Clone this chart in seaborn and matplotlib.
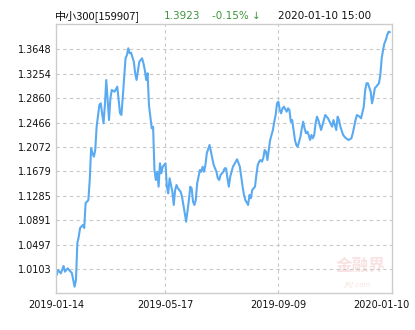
import matplotlib
matplotlib.use("Agg")
import matplotlib.pyplot as plt
from matplotlib.transforms import ScaledTranslation
import seaborn as sns
import pandas as pd

# trading-day index and NAV
day_index = [0, 1, 3, 5, 6, 8, 9, 11, 13, 14, 15, 16, 17, 19, 20, 21, 22, 23, 24, 25,
             26, 27, 28, 29, 31, 32, 34, 35, 36, 38, 39, 40, 42, 44, 45, 46, 47, 48, 50, 51,
             52, 53, 54, 56, 57, 58, 60, 62, 63, 64, 65, 66, 67, 69, 70, 71, 72, 73, 74, 75,
             76, 77, 79, 80, 81, 82, 84, 85, 86, 87, 88, 90, 91, 92, 93, 94, 96, 97, 98, 99,
             100, 101, 102, 104, 105, 106, 107, 108, 109, 111, 112, 113, 114, 116, 117, 118, 119, 121, 122, 123,
             124, 125, 126, 128, 130, 131, 133, 134, 135, 136, 137, 139, 140, 141, 142, 144, 145, 146, 147, 148,
             149, 150, 151, 152, 153, 154, 155, 157, 158, 159, 160, 161, 162, 163, 164, 165, 167, 168, 169, 170,
             171, 172, 173, 174, 175, 176, 177, 178, 179, 180, 181, 182, 183, 184, 185, 186, 187, 188, 189, 190,
             191, 192, 194, 195, 196, 197, 200, 201, 203, 204, 205, 206, 208, 210, 212, 214, 215, 217, 218, 220,
             221, 223, 224, 225, 226, 228, 229, 230, 231, 232, 234, 235, 236, 237, 238, 239, 240, 241, 242]
nav = [1.0011, 1.0091, 1.0038, 1.0156, 1.0064, 1.0119, 1.0091, 1.0043, 0.9822, 0.9930, 1.0522, 1.0628, 1.0768, 1.0817, 1.0768, 1.1171, 1.1192, 1.1219, 1.1542, 1.2052,
       1.1972, 1.1917, 1.2025, 1.2400, 1.2750, 1.2777, 1.2455, 1.2750, 1.3153, 1.2508, 1.2858, 1.2992, 1.2964, 1.3045, 1.2831, 1.2616, 1.2589, 1.2884, 1.3503, 1.3556,
       1.3664, 1.3583, 1.3593, 1.3448, 1.3261, 1.3153, 1.3448, 1.3503, 1.3422, 1.3314, 1.3153, 1.3261, 1.2750, 1.2375, 1.2400, 1.1703, 1.1542, 1.1675, 1.1434, 1.1811,
       1.1649, 1.1756, 1.1811, 1.1434, 1.1327, 1.1569, 1.1353, 1.1139, 1.1380, 1.1461, 1.1408, 1.1353, 1.1273, 1.1139, 1.1005, 1.0870, 1.1219, 1.1434, 1.1408, 1.1192,
       1.1139, 1.1219, 1.1488, 1.1703, 1.1675, 1.1756, 1.1675, 1.1783, 1.1972, 1.2106, 1.1998, 1.1891, 1.1783, 1.1675, 1.1569, 1.1542, 1.1622, 1.1675, 1.1730, 1.1730,
       1.1569, 1.1434, 1.1595, 1.1756, 1.1837, 1.1875, 1.1756, 1.1595, 1.1434, 1.1300, 1.1219, 1.1139, 1.1300, 1.1247, 1.1380, 1.1434, 1.1622, 1.1783, 1.1837, 1.1864,
       1.1837, 1.1891, 1.2025, 1.1998, 1.1864, 1.2025, 1.2186, 1.2347, 1.2481, 1.2589, 1.2777, 1.2803, 1.2669, 1.2616, 1.2697, 1.2723, 1.2642, 1.2697, 1.2669, 1.2481,
       1.2508, 1.2347, 1.2186, 1.2106, 1.2078, 1.2159, 1.2239, 1.2375, 1.2481, 1.2375, 1.2294, 1.2320, 1.2267, 1.2186, 1.2267, 1.2214, 1.2267, 1.2455, 1.2562, 1.2508,
       1.2428, 1.2347, 1.2508, 1.2589, 1.2562, 1.2536, 1.2400, 1.2508, 1.2347, 1.2562, 1.2508, 1.2400, 1.2267, 1.2214, 1.2186, 1.2214, 1.2294, 1.2508, 1.2589, 1.2562,
       1.2536, 1.2723, 1.2992, 1.3100, 1.3100, 1.2964, 1.2777, 1.2884, 1.3019, 1.3045, 1.3100, 1.3233, 1.3503, 1.3636, 1.3744, 1.3797, 1.3878, 1.3931, 1.3923]

y_ticks = [1.0103, 1.0497, 1.0891, 1.1285, 1.1679, 1.2072, 1.2466, 1.2860, 1.3254, 1.3648]
y_tick_labels = ["1.0103", "1.0497", "1.0891", "1.1285", "1.1679", "1.2072", "1.2466", "1.2860", "1.3254", "1.3648"]
x_tick_pos = [0, 79, 161, 242]
x_tick_labels = ["2019-01-14", "2019-05-17", "2019-09-09", "2020-01-10"]

fund_name = "中小300[159907]"
last_nav = "1.3923"
change = "-0.15% ↓"
timestamp = "2020-01-10 15:00"

sns.set_style("white")
plt.rcParams['font.family'] = ['DejaVu Sans', 'Noto Sans CJK SC']

fig = plt.figure(figsize=(4.15, 3.3), dpi=100)
ax = fig.add_axes([56 / 415, 1 - 293 / 330, 336.3 / 415, 269 / 330])

df = pd.DataFrame({"idx": day_index, "nav": nav})
sns.lineplot(data=df, x="idx", y="nav", ax=ax, color="#5aaaf2", linewidth=1.5)

ax.set_xlim(-0.5, 243.7)
ax.set_ylim(0.9721, 1.4055)
ax.set_yticks(y_ticks)
ax.set_yticklabels(y_tick_labels, fontsize=7, color="#111111")
ax.set_xticks(x_tick_pos)
ax.set_xticklabels(x_tick_labels, fontsize=7, color="#111111")
ax.set_xlabel("")
ax.set_ylabel("")
ax.tick_params(axis="both", length=0)
ax.tick_params(axis="y", pad=3)
ax.tick_params(axis="x", pad=5)

ax.yaxis.grid(True, linestyle=(0, (3, 3)), color="#c8c8c8", linewidth=0.8)
for xp in x_tick_pos[1:3]:
    ax.axvline(xp, linestyle=(0, (3, 3)), color="#c8c8c8", linewidth=0.8, zorder=0)
ax.set_axisbelow(True)
for s in ax.spines.values():
    s.set_color("#cccccc")
    s.set_linewidth(1.0)

# shift last x label left so it fits
lbls = ax.get_xticklabels()
lbls[-1].set_transform(lbls[-1].get_transform() + ScaledTranslation(-8.3 / 100, 0, fig.dpi_scale_trans))

# watermark
ax.text(0.905, 0.10, "金融界", transform=ax.transAxes, ha="center", va="center",
        fontsize=12, color="#f8e2e2", family=['Noto Sans CJK SC', 'DejaVu Sans'], fontweight="bold", zorder=0)
ax.text(0.895, 0.028, "JRJ.com", transform=ax.transAxes, ha="center", va="center",
        fontsize=5, color="#f8e2e2", style="italic", zorder=0)

ty = 1 - 15.7 / 330
fig.text(55 / 415, ty, fund_name, ha="left", va="center", fontsize=8, color="#111111",
         family=['Noto Sans CJK SC', 'DejaVu Sans'])
fig.text(164 / 415, ty, last_nav, ha="left", va="center", fontsize=7.5, color="#3c963c")
fig.text(212 / 415, ty, change, ha="left", va="center", fontsize=7.5, color="#3c963c",
         family=['DejaVu Sans', 'Noto Sans CJK SC'])
fig.text(277.7 / 415, ty, timestamp, ha="left", va="center", fontsize=7.5, color="#111111")

fig.savefig("out.png", dpi=100)
